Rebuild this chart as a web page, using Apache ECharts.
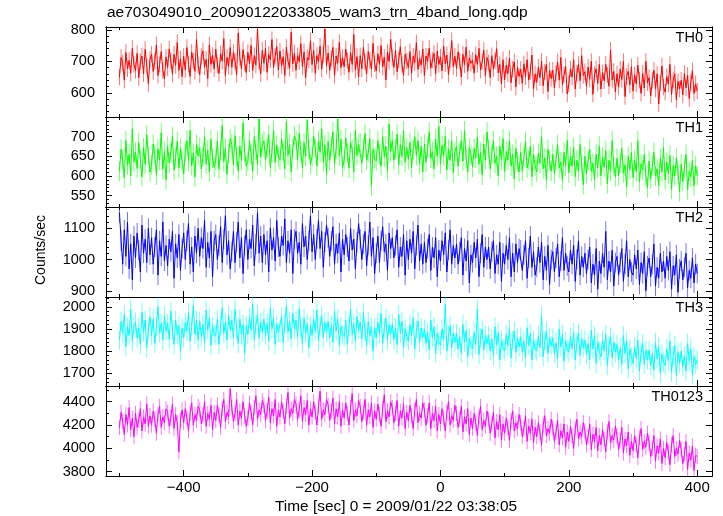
<!DOCTYPE html>
<html><head><meta charset="utf-8">
<script src="https://cdn.jsdelivr.net/npm/echarts@6/dist/echarts.min.js"></script>
<style>html,body{margin:0;padding:0;background:#fff}#c{width:723px;height:516px}</style>
</head><body><div id="c"></div>
<script>
// time bins (sec): first bin time and cadence
const timeStart = -500, timeStep = 2.5;

const th0 = [
650,712,695,640,728,676,703,662,741,690,
671,725,648,699,717,660,738,684,629,706,
722,668,700,752,655,690,731,672,644,714,
680,739,702,659,722,687,760,671,708,651,
716,673,744,690,652,729,701,668,770,688,
657,715,733,682,706,645,752,690,719,676,
739,688,661,724,701,772,654,713,684,744,
681,729,700,658,790,712,676,737,695,664,
728,692,750,671,718,688,803,699,660,735,
694,741,665,722,705,769,680,716,747,672,
733,686,714,655,745,700,678,792,692,726,
671,718,699,756,683,730,648,712,704,765,
690,735,662,718,698,748,675,721,803,686,
726,671,709,744,655,717,694,760,680,712,
683,739,702,665,728,690,785,672,715,650,
718,676,745,698,660,731,703,675,757,692,
669,724,690,750,682,713,641,728,699,770,
712,681,735,667,704,746,690,655,722,701,
680,731,662,716,696,759,674,709,688,739,
655,717,700,742,678,704,725,661,733,690,
714,670,748,692,720,658,705,766,683,716,
677,730,701,650,722,689,745,668,710,694,
703,662,721,690,741,672,699,735,654,712,
695,648,718,676,702,740,663,690,628,705,
641,688,660,710,632,675,698,618,680,652,
675,630,692,651,705,640,668,720,612,660,
633,681,648,700,622,666,690,604,671,645,
672,615,661,698,640,712,626,657,684,596,
628,676,650,705,612,662,690,638,718,655,
667,620,682,643,700,595,658,676,630,690,
612,664,638,690,656,621,735,640,668,603,
660,618,675,642,700,588,652,668,625,683,
605,657,628,688,640,598,662,615,700,632,
648,590,640,672,612,660,565,632,685,618,
602,651,628,690,595,641,660,578,636,612,
640,593,661,615,655,582,632,670,598,628,
605];

const th1 = [
612,668,641,595,690,628,655,600,720,636,
660,619,685,641,598,672,630,705,652,610,
628,681,655,602,669,640,710,617,662,590,
676,633,659,700,615,647,688,620,671,639,
605,662,690,638,716,626,658,597,681,651,
672,618,648,700,630,666,610,693,645,622,
640,689,617,664,728,636,671,604,657,695,
681,628,703,650,612,676,640,735,660,625,
637,690,655,612,700,666,629,745,648,681,
689,640,671,705,622,660,716,635,678,648,
640,694,663,618,738,652,681,610,670,702,
690,641,708,662,620,685,650,742,668,630,
649,701,672,625,690,660,720,636,679,605,
688,640,676,712,630,668,745,650,693,622,
641,697,658,620,685,668,610,716,652,680,
685,632,671,708,640,660,695,575,668,644,
638,690,655,625,700,648,676,612,732,662,
690,640,668,706,628,680,650,715,635,672,
642,685,621,668,700,652,690,630,676,610,
681,635,670,712,645,662,618,694,650,726,
630,678,652,700,615,668,640,690,608,662,
676,625,660,690,638,715,645,610,672,655,
622,670,645,698,630,660,602,681,640,712,
668,618,655,690,632,650,600,676,640,695,
612,662,640,690,625,655,592,670,636,610,
660,612,648,688,620,640,675,598,655,625,
610,658,632,700,618,646,590,668,640,612,
655,605,642,680,620,636,588,660,625,690,
608,650,625,672,598,640,612,680,630,578,
650,605,640,668,612,632,590,655,620,676,
600,648,622,665,580,640,612,690,625,598,
645,600,632,670,608,628,572,650,615,660,
596,640,610,690,585,630,615,655,600,570,
638,592,626,660,600,618,575,645,610,672,
590,635,605,652,566,626,600,645,612,560,
630,586,620,655,565,612,598,640,575,625,
600];

const th2 = [
1150,1060,985,1095,1010,1120,970,1050,935,1075,
1005,1085,1030,960,1110,1020,1065,990,1100,1015,
1070,985,1040,1095,950,1060,1010,1120,995,1045,
980,1065,1025,1090,940,1050,1005,1080,965,1035,
1085,1000,1060,1115,985,1040,960,1075,1020,1100,
1010,1070,1035,1125,975,1055,1005,1090,945,1060,
1080,1000,1045,1105,990,1065,1140,1015,1060,970,
1025,1090,990,1055,1120,1005,1070,955,1045,1095,
1000,1065,1035,1110,980,1050,1150,1020,1075,990,
1080,1015,1060,960,1100,1030,1070,995,1125,1040,
1010,1075,1045,1130,990,1060,1020,1095,955,1065,
1090,1020,1055,985,1115,1040,1075,1000,1060,1140,
1025,1080,1000,1065,1125,1035,1090,975,1055,1110,
1070,1010,1060,1105,985,1050,1020,1085,960,1065,
1015,1080,1040,995,1100,1030,1065,970,1055,1115,
1065,1000,1050,1090,980,1045,1120,1010,1070,955,
1020,1075,990,1060,1105,1025,1050,965,1085,1035,
1070,1005,1045,1095,975,1040,1010,1080,950,1060,
1000,1065,1020,1090,970,1045,1110,995,1050,985,
1055,990,1035,1080,965,1040,1005,1070,945,1030,
995,1060,1015,1085,960,1030,1095,985,1045,1005,
1050,985,1025,1070,950,1035,995,1060,925,1015,
990,1055,1005,1065,945,1020,1080,975,1040,1000,
1040,970,1025,1060,955,1015,985,1055,930,1020,
985,1045,1000,1070,945,1020,960,1050,990,1035,
1030,965,1015,1060,940,1005,1075,975,1025,950,
975,1040,990,1055,935,1010,965,1045,920,1000,
1025,960,1005,1050,945,995,1070,965,1020,980,
960,1030,985,1045,930,1000,1060,950,1010,975,
1020,955,1000,1040,925,985,950,1035,905,995,
955,1020,975,1090,935,995,960,1030,915,990,
1010,950,990,1035,930,985,1060,945,1000,960,
950,1015,970,1030,920,990,955,1025,900,980,
1005,945,985,1050,915,975,940,1020,960,995,
940,1010,965,1025,905,980,950,1015,895,970,
995,935,975,1020,910,965,940,1005,925,985,
955];

const th3 = [
1850,1935,1880,1965,1820,1910,1870,1990,1845,1915,
1930,1860,1905,1830,1975,1885,1940,1815,1900,1955,
1870,1945,1835,1910,2000,1880,1925,1850,1960,1890,
1925,1855,1980,1895,1830,1940,1875,1915,1800,1905,
1860,1930,1890,1975,1845,1910,2005,1875,1940,1850,
1935,1865,1920,1840,1985,1895,1950,1825,1910,1880,
1870,1945,1830,1915,1995,1880,1930,1850,1960,1895,
1940,1860,1990,1900,1835,1945,1875,1920,1790,1915,
1875,1950,1895,2010,1850,1920,1965,1860,1930,1885,
1945,1870,1925,1845,1995,1900,1950,1830,1920,1885,
1880,1955,1840,1925,2005,1885,1935,1855,1970,1900,
1940,1865,1990,1905,1835,1950,1880,1925,1815,1915,
1870,1945,1890,1985,1845,1915,1960,1860,1930,1885,
1935,1860,1915,1840,1980,1890,1945,1825,1910,1875,
1865,1940,1830,1910,1990,1875,1925,1845,1955,1895,
1930,1855,1975,1890,1825,1935,1870,1910,1800,1905,
1860,1930,1880,1970,1835,1905,1950,1850,1920,1875,
1925,1850,1905,1830,1965,1880,1935,1815,1900,1865,
1845,1920,1870,1950,1810,1895,1935,1840,1905,1860,
1900,1835,1885,1805,1940,1860,1910,1790,1880,1845,
1825,1900,1850,2010,1800,1870,1915,1815,1880,1840,
1880,1810,1865,1790,1920,1840,1895,1775,1860,1825,
1810,1885,1830,1990,1785,1860,1900,1805,1870,1835,
1870,1800,1855,1780,1910,1830,1885,1760,1850,1815,
1800,1875,1825,1900,1770,1850,1890,1795,1860,1820,
1865,1795,1845,1770,1905,1825,1880,1760,1850,1810,
1800,1870,1815,1960,1775,1845,1890,1790,1860,1825,
1860,1790,1840,1765,1900,1820,1875,1755,1845,1810,
1795,1865,1810,1885,1760,1840,1880,1780,1855,1815,
1850,1785,1835,1760,1895,1810,1870,1745,1840,1800,
1775,1850,1800,1875,1735,1825,1865,1770,1840,1795,
1830,1760,1815,1740,1870,1790,1845,1720,1810,1775,
1745,1820,1765,1850,1710,1795,1835,1740,1805,1760,
1805,1735,1790,1715,1840,1765,1820,1700,1785,1750,
1735,1810,1755,1845,1705,1780,1825,1690,1795,1745,
1800,1730,1780,1710,1835,1755,1810,1695,1775,1740,
1760];

const th0123 = [
4180,4310,4230,4120,4290,4200,4350,4160,4260,4100,
4300,4180,4240,4340,4150,4270,4210,4380,4190,4280,
4200,4320,4250,4130,4290,4360,4180,4270,4220,4340,
4310,4190,4260,4380,4170,4290,4220,3970,4240,4330,
4220,4340,4260,4150,4300,4390,4200,4290,4240,4360,
4330,4210,4280,4400,4190,4300,4250,4370,4160,4310,
4240,4370,4290,4180,4340,4420,4230,4310,4270,4510,
4350,4230,4300,4420,4200,4320,4260,4400,4280,4190,
4260,4390,4310,4200,4350,4450,4250,4330,4290,4410,
4370,4240,4320,4440,4220,4340,4280,4420,4190,4330,
4270,4400,4320,4210,4360,4480,4260,4340,4300,4420,
4380,4250,4330,4450,4230,4350,4290,4410,4200,4340,
4270,4400,4310,4200,4360,4490,4250,4330,4290,4420,
4370,4240,4320,4430,4210,4340,4270,4400,4190,4330,
4260,4390,4300,4200,4350,4470,4240,4330,4280,4410,
4360,4230,4310,4420,4200,4330,4270,4390,4180,4320,
4250,4380,4290,4190,4340,4460,4230,4320,4270,4400,
4350,4220,4300,4410,4190,4320,4260,4380,4170,4310,
4240,4370,4280,4170,4330,4420,4220,4300,4260,4390,
4330,4200,4280,4390,4170,4300,4240,4360,4150,4290,
4210,4340,4260,4150,4310,4400,4200,4280,4240,4370,
4300,4180,4250,4360,4140,4270,4210,4340,4120,4260,
4170,4300,4220,4110,4270,4360,4160,4240,4190,4320,
4250,4130,4210,4310,4090,4230,4160,4290,4070,4210,
4130,4260,4180,4070,4240,4320,4150,4220,4170,4290,
4220,4100,4170,4280,4060,4190,4130,4250,4050,4180,
4100,4220,4140,4030,4200,4280,4110,4170,4130,4250,
4180,4060,4140,4240,4030,4150,4090,4210,4010,4140,
4060,4190,4110,4000,4170,4250,4080,4140,4100,4220,
4150,4030,4100,4210,3990,4120,4060,4180,3980,4110,
4030,4160,4080,3970,4140,4230,4050,4110,4070,4190,
4110,3990,4070,4180,3960,4080,4020,4140,3940,4060,
3980,4110,4030,3920,4090,4170,3990,4060,4010,4130,
4050,3930,4000,4110,3890,4020,3960,4080,3870,4000,
3920,4050,3970,3860,4030,4110,3930,4000,3950,4070,
3990,3870,3950,4060,3820,3960,3900,4020,3810,3940,
3930];

// 1-sigma error of a single bin, per band
const binErr = [26, 25, 32, 43, 65];

const panelNames = ['TH0','TH1','TH2','TH3','TH0123'];
const panelData = [th0, th1, th2, th3, th0123];
const xMajorTicks = [-400,-200,0,200,400];
const xMinorTicks = [-500,-300,-100,100,300];
const yMajorTicks = [[600,700,800],[550,600,650,700],[900,1000,1100],[1700,1800,1900,2000],[3800,4000,4200,4400]];
const yMinorStep = [20,10,20,20,100];
const titleText = 'ae703049010_20090122033805_wam3_trn_4band_long.qdp';
const yTitle = 'Counts/sec';
const xTitle = 'Time [sec] 0 = 2009/01/22 03:38:05';

// layout / style
const colors = ['#ff0000','#00ff00','#0000ff','#00ffff','#ff00ff'];
const errColors = ['rgba(255,0,0,0.55)','rgba(0,255,0,0.55)','rgba(0,0,255,0.55)','rgba(0,255,255,0.55)','rgba(255,0,255,0.55)'];
const yMin = [523, 521, 880, 1643, 3763];
const yMax = [809, 750, 1168, 2044, 4535];
const xMin = -521, xMax = 423;
const tops = [27, 117, 207, 297, 386];
const heights = [90, 90, 90, 89, 90];
const FONT = 'Liberation Sans, Arial, sans-serif';

function minorList(i){
  const out = [];
  const s = yMinorStep[i];
  for (let v = Math.ceil(yMin[i]/s)*s; v <= yMax[i]; v += s) {
    if (yMajorTicks[i].indexOf(v) < 0) out.push(v);
  }
  return out;
}
const fmtX = v => (v < 0 ? '\u2212' + Math.abs(v) : String(v));
const fmtY = v => String(v);

const grids = [], xAxes = [], yAxes = [], series = [], graphics = [];
for (let i = 0; i < 5; i++) {
  grids.push({left: 106, right: 11, top: tops[i], height: heights[i], containLabel: false});
  const mkX = (pos, ticks, len, lab) => ({
    type: 'value', gridIndex: i, position: pos, min: xMin, max: xMax,
    axisLine: {show: true, onZero: false, lineStyle: {color: '#000', width: 1}},
    axisTick: {show: true, inside: true, length: len, customValues: ticks, lineStyle: {color: '#000', width: 1}},
    axisLabel: {show: lab, customValues: ticks, margin: 4, fontSize: 15, color: '#000', fontFamily: FONT, formatter: fmtX},
    splitLine: {show: false}
  });
  xAxes.push(mkX('bottom', xMajorTicks, 6, i === 4));
  xAxes.push(mkX('bottom', xMinorTicks, 3, false));
  xAxes.push(mkX('top', xMajorTicks, 6, false));
  xAxes.push(mkX('top', xMinorTicks, 3, false));
  const mn = minorList(i);
  const mkY = (pos, ticks, len, lab) => ({
    type: 'value', gridIndex: i, position: pos, min: yMin[i], max: yMax[i],
    axisLine: {show: true, onZero: false, lineStyle: {color: '#000', width: 1}},
    axisTick: {show: true, inside: true, length: len, customValues: ticks, lineStyle: {color: '#000', width: 1}},
    axisLabel: {show: lab, customValues: ticks, margin: 11, fontSize: 14.5, color: '#000', fontFamily: FONT, formatter: fmtY},
    splitLine: {show: false}
  });
  yAxes.push(mkY('left', yMajorTicks[i], 6, true));
  yAxes.push(mkY('left', mn, 3, false));
  yAxes.push(mkY('right', yMajorTicks[i], 6, false));
  yAxes.push(mkY('right', mn, 3, false));
  const pts = panelData[i].map((v, k) => [timeStart + k*timeStep, v]);
  const err = binErr[i];
  const ec = errColors[i];
  series.push({
    type: 'custom', xAxisIndex: i*4, yAxisIndex: i*4, data: pts, silent: true, clip: true,
    renderItem: (params, api) => {
      const x = api.value(0), y = api.value(1);
      const a = api.coord([x, y - err]), b = api.coord([x, y + err]);
      return {type: 'line', shape: {x1: a[0], y1: a[1], x2: b[0], y2: b[1]}, style: {stroke: ec, lineWidth: 1}};
    },
    animation: false, z: 1
  });
  series.push({
    type: 'line', xAxisIndex: i*4, yAxisIndex: i*4, data: pts,
    showSymbol: false, symbol: 'none', silent: true,
    lineStyle: {width: 1, color: colors[i]}, itemStyle: {color: colors[i]},
    animation: false, z: 2
  });
  graphics.push({type: 'text', right: 20, top: tops[i] + 3,
    style: {text: panelNames[i], fontSize: 14.5, fontFamily: FONT, fill: '#000'}});
}
graphics.push({type: 'text', left: 107, top: 5, style: {text: titleText, fontSize: 15.5, fontFamily: FONT, fill: '#000'}});
graphics.push({type: 'text', x: 41, y: 250, rotation: Math.PI/2,
  style: {text: yTitle, fontSize: 14, fontFamily: FONT, fill: '#000', align: 'center', verticalAlign: 'middle'}});
graphics.push({type: 'text', x: 396, y: 507,
  style: {text: xTitle, fontSize: 15.4, fontFamily: FONT, fill: '#000', align: 'center', verticalAlign: 'middle'}});

const chart = echarts.init(document.getElementById('c'), null, {renderer: 'canvas'});
chart.setOption({
  animation: false,
  backgroundColor: '#fff',
  grid: grids, xAxis: xAxes, yAxis: yAxes, series: series, graphic: graphics
});
</script></body></html>
